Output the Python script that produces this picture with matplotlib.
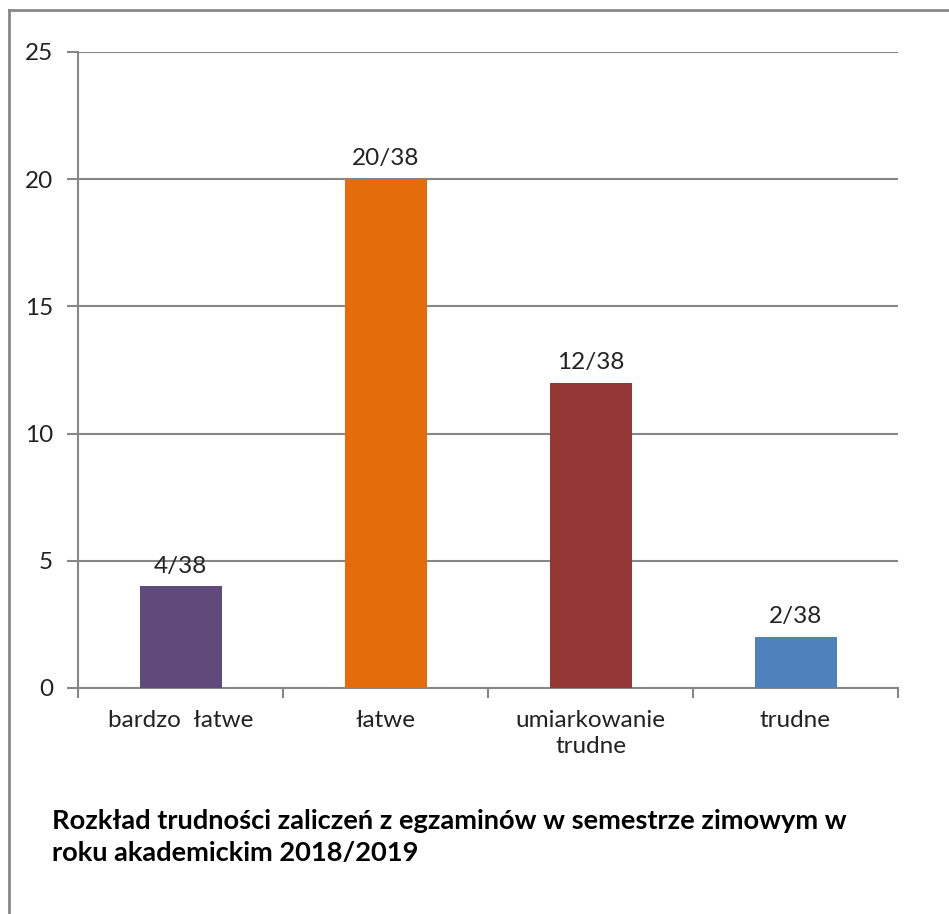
import matplotlib
matplotlib.use("Agg")
import matplotlib.pyplot as plt
from matplotlib.lines import Line2D

categories = ["bardzo  łatwe", "łatwe", "umiarkowanie\ntrudne", "trudne"]
values = [4, 20, 12, 2]
labels = ["4/38", "20/38", "12/38", "2/38"]
colors = ["#604A7B", "#E46C0A", "#953735", "#4F81BD"]
yticks = [0, 5, 10, 15, 20, 25]
title = "Rozkład trudności zaliczeń z egzaminów w semestrze zimowym w\nroku akademickim 2018/2019"

plt.rcParams['font.family'] = ['Lato', 'DejaVu Sans']

W, H = 949, 914
fig = plt.figure(figsize=(W / 100, H / 100), dpi=100)
ax = fig.add_axes([78 / W, 1 - 688 / H, (898 - 78) / W, (688 - 52) / H])

x = list(range(len(categories)))
bars = ax.bar(x, values, width=0.4, color=colors, zorder=3)
for xi, v, lab in zip(x, values, labels):
    ax.annotate(lab, (xi, v), xytext=(0, 7), textcoords="offset points",
                ha="center", va="bottom", fontsize=17.5, color="#222222")

ax.set_xlim(-0.5, len(categories) - 0.5)
ax.set_ylim(0, 25)
ax.set_yticks(yticks)
ax.set_yticklabels([str(t) for t in yticks], fontsize=17.5, color="#222222")
ax.yaxis.grid(True, color="#878787", linewidth=1.5, zorder=0)
ax.set_axisbelow(True)

ax.set_xticks([i - 0.5 for i in range(len(categories) + 1)], minor=False)
ax.set_xticklabels([])
ax.tick_params(axis="x", which="major", length=7, width=1.5, color="#878787", direction="out")
ax.set_xticks(x, minor=True)
ax.set_xticklabels(categories, minor=True, fontsize=17.5, color="#222222", linespacing=1.3)
ax.tick_params(axis="x", which="minor", length=0, pad=16)
ax.tick_params(axis="y", length=8, width=1.5, color="#878787", pad=10)

for s in ["top", "right"]:
    ax.spines[s].set_visible(False)
for s in ["left", "bottom"]:
    ax.spines[s].set_color("#878787")
    ax.spines[s].set_linewidth(1.5)

fig.text(52 / W, 1 - 809 / H, title, fontsize=19.6, fontweight="bold",
         ha="left", va="top", linespacing=1.4, color="#000000")

# outer border (top and left visible)
fig.add_artist(Line2D([9 / W, 1.0], [1 - 10 / H, 1 - 10 / H], transform=fig.transFigure,
                      color="#878787", linewidth=2))
fig.add_artist(Line2D([9 / W, 9 / W], [0, 1 - 10 / H], transform=fig.transFigure,
                      color="#878787", linewidth=2))

fig.savefig("out.png", dpi=100)
